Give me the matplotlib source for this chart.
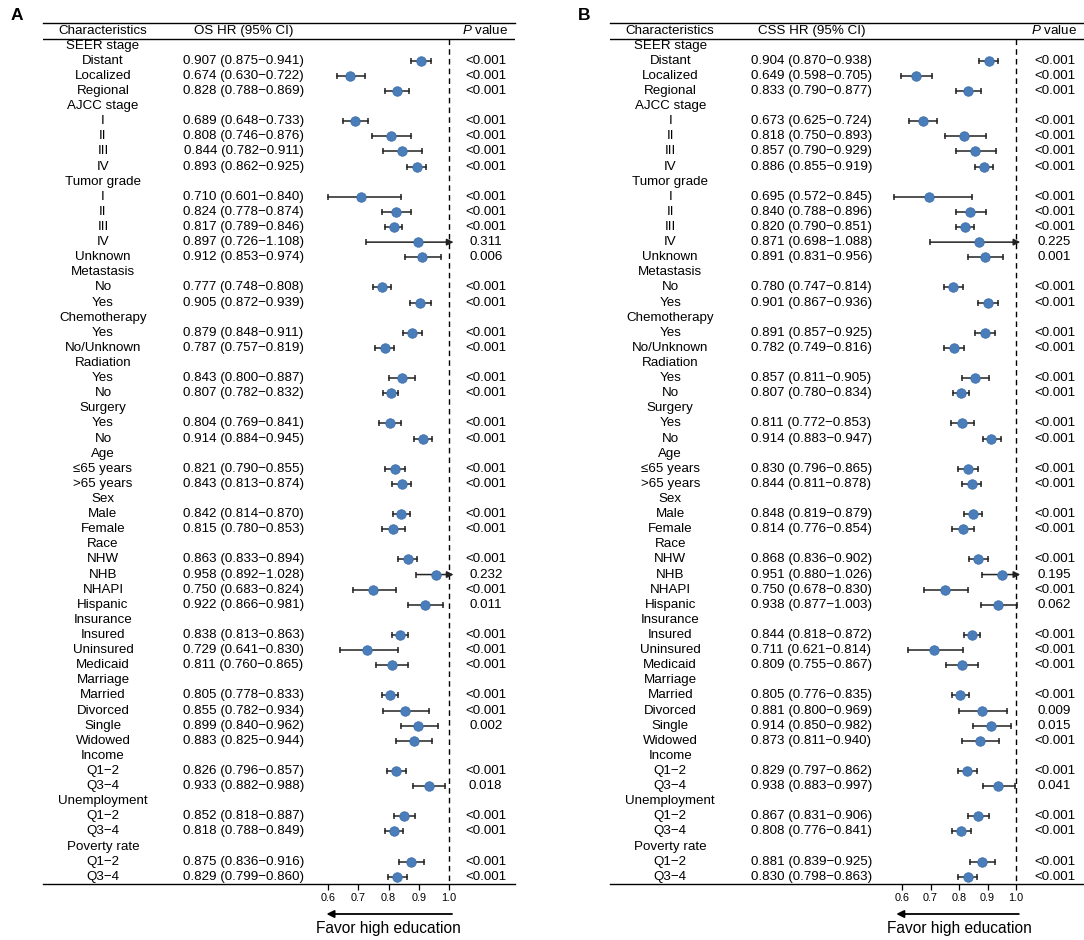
import numpy as np
import matplotlib
matplotlib.use("Agg")
import matplotlib.pyplot as plt

plt.rcParams['font.family'] = ['Liberation Sans', 'DejaVu Sans']
plt.rcParams['mathtext.fontset'] = 'custom'
plt.rcParams['mathtext.it'] = 'Liberation Sans:italic'
plt.rcParams['mathtext.rm'] = 'Liberation Sans'

# row labels; group headers have no HR
labels = ["SEER stage", "Distant", "Localized", "Regional",
          "AJCC stage", "I", "II", "III", "IV",
          "Tumor grade", "I", "II", "III", "IV", "Unknown",
          "Metastasis", "No", "Yes",
          "Chemotherapy", "Yes", "No/Unknown",
          "Radiation", "Yes", "No",
          "Surgery", "Yes", "No",
          "Age", "≤65 years", ">65 years",
          "Sex", "Male", "Female",
          "Race", "NHW", "NHB", "NHAPI", "Hispanic",
          "Insurance", "Insured", "Uninsured", "Medicaid",
          "Marriage", "Married", "Divorced", "Single", "Widowed",
          "Income", "Q1−2", "Q3−4",
          "Unemployment", "Q1−2", "Q3−4",
          "Poverty rate", "Q1−2", "Q3−4"]
is_group = [1, 0, 0, 0, 1, 0, 0, 0, 0, 1, 0, 0, 0, 0, 0, 1, 0, 0, 1, 0, 0,
            1, 0, 0, 1, 0, 0, 1, 0, 0, 1, 0, 0, 1, 0, 0, 0, 0, 1, 0, 0, 0,
            1, 0, 0, 0, 0, 1, 0, 0, 1, 0, 0, 1, 0, 0]

# OS (panel A), only the subgroup rows
os_hr = [0.907, 0.674, 0.828, 0.689, 0.808, 0.844, 0.893,
         0.710, 0.824, 0.817, 0.897, 0.912, 0.777, 0.905,
         0.879, 0.787, 0.843, 0.807, 0.804, 0.914, 0.821, 0.843,
         0.842, 0.815, 0.863, 0.958, 0.750, 0.922,
         0.838, 0.729, 0.811, 0.805, 0.855, 0.899, 0.883,
         0.826, 0.933, 0.852, 0.818, 0.875, 0.829]
os_lo = [0.875, 0.630, 0.788, 0.648, 0.746, 0.782, 0.862,
         0.601, 0.778, 0.789, 0.726, 0.853, 0.748, 0.872,
         0.848, 0.757, 0.800, 0.782, 0.769, 0.884, 0.790, 0.813,
         0.814, 0.780, 0.833, 0.892, 0.683, 0.866,
         0.813, 0.641, 0.760, 0.778, 0.782, 0.840, 0.825,
         0.796, 0.882, 0.818, 0.788, 0.836, 0.799]
os_hi = [0.941, 0.722, 0.869, 0.733, 0.876, 0.911, 0.925,
         0.840, 0.874, 0.846, 1.108, 0.974, 0.808, 0.939,
         0.911, 0.819, 0.887, 0.832, 0.841, 0.945, 0.855, 0.874,
         0.870, 0.853, 0.894, 1.028, 0.824, 0.981,
         0.863, 0.830, 0.865, 0.833, 0.934, 0.962, 0.944,
         0.857, 0.988, 0.887, 0.849, 0.916, 0.860]
os_p = ["<0.001"] * 7 + ["<0.001", "<0.001", "<0.001", "0.311", "0.006"] + \
       ["<0.001"] * 12 + ["<0.001", "0.232", "<0.001", "0.011"] + \
       ["<0.001"] * 5 + ["0.002", ""] + ["<0.001", "0.018"] + ["<0.001"] * 4

# CSS (panel B)
css_hr = [0.904, 0.649, 0.833, 0.673, 0.818, 0.857, 0.886,
          0.695, 0.840, 0.820, 0.871, 0.891, 0.780, 0.901,
          0.891, 0.782, 0.857, 0.807, 0.811, 0.914, 0.830, 0.844,
          0.848, 0.814, 0.868, 0.951, 0.750, 0.938,
          0.844, 0.711, 0.809, 0.805, 0.881, 0.914, 0.873,
          0.829, 0.938, 0.867, 0.808, 0.881, 0.830]
css_lo = [0.870, 0.598, 0.790, 0.625, 0.750, 0.790, 0.855,
          0.572, 0.788, 0.790, 0.698, 0.831, 0.747, 0.867,
          0.857, 0.749, 0.811, 0.780, 0.772, 0.883, 0.796, 0.811,
          0.819, 0.776, 0.836, 0.880, 0.678, 0.877,
          0.818, 0.621, 0.755, 0.776, 0.800, 0.850, 0.811,
          0.797, 0.883, 0.831, 0.776, 0.839, 0.798]
css_hi = [0.938, 0.705, 0.877, 0.724, 0.893, 0.929, 0.919,
          0.845, 0.896, 0.851, 1.088, 0.956, 0.814, 0.936,
          0.925, 0.816, 0.905, 0.834, 0.853, 0.947, 0.865, 0.878,
          0.879, 0.854, 0.902, 1.026, 0.830, 1.003,
          0.872, 0.814, 0.867, 0.835, 0.969, 0.982, 0.940,
          0.862, 0.997, 0.906, 0.841, 0.925, 0.863]
css_p = ["<0.001"] * 7 + ["<0.001", "<0.001", "<0.001", "0.225", "0.001"] + \
        ["<0.001"] * 12 + ["<0.001", "0.195", "<0.001", "0.062"] + \
        ["<0.001"] * 4 + ["0.009", "0.015", "<0.001"] + ["<0.001", "0.041"] + \
        ["<0.001"] * 4

ticks = [0.6, 0.7, 0.8, 0.9, 1.0]

W, H = 1084, 940
blue = "#4a7ebb"
fs = 9.6


def panel(left_px, right_px, one_px, px_per_unit, letter, hr_title, hr, lo, hi, pvals, arrow_tip):
    top_px, bot_px = 22.7, 884.0
    row0, step = 45.7, 15.11
    ax = fig.add_axes([left_px / W, 1 - bot_px / H, (right_px - left_px) / W, (bot_px - top_px) / H])
    x0 = 1 - (one_px - left_px) / px_per_unit
    x1 = 1 + (right_px - one_px) / px_per_unit
    ax.set_xlim(x0, x1)
    ax.set_ylim((bot_px - row0) / step, (top_px - row0) / step)
    for s in ["left", "right"]:
        ax.spines[s].set_visible(False)
    ax.spines["top"].set_linewidth(1.0)
    ax.spines["bottom"].set_linewidth(1.0)
    ax.set_yticks([])
    ax.set_xticks(ticks)
    ax.set_xticklabels([f"{t:.1f}" for t in ticks], fontsize=7.8)
    ax.tick_params(axis="x", length=4, width=0.9, pad=2.5)

    hdr_line = (39 - row0) / step
    ax.axhline(hdr_line, color="k", lw=1.0)
    ax.plot([1, 1], [hdr_line, ax.get_ylim()[0]], color="k", lw=1.0, ls=(0, (4, 3)))

    tr = ax.get_yaxis_transform()
    hdr_y = (31 - row0) / step
    ax.text(0.127, hdr_y, "Characteristics", transform=tr, ha="center", va="center", fontsize=fs)
    ax.text(0.425, hdr_y, hr_title, transform=tr, ha="center", va="center", fontsize=fs)
    ax.text(0.936, hdr_y, r"$\mathit{P}$ value", transform=tr, ha="center", va="center", fontsize=fs)

    k = 0
    for i, lab in enumerate(labels):
        ax.text(0.127, i, lab, transform=tr, ha="center", va="center", fontsize=fs)
        if is_group[i]:
            continue
        ax.text(0.425, i, f"{hr[k]:.3f} ({lo[k]:.3f}−{hi[k]:.3f})", transform=tr,
                ha="center", va="center", fontsize=fs)
        ax.text(0.938, i, pvals[k], transform=tr, ha="center", va="center", fontsize=fs)
        if hi[k] > 1.01:
            # CI runs past the clip: arrow instead of a cap
            ax.annotate("", xy=(1.015, i), xytext=(lo[k], i),
                        arrowprops=dict(arrowstyle="-|>,head_length=0.7,head_width=0.35",
                                        mutation_scale=5.5, lw=1.1,
                                        color="#222222", shrinkA=0, shrinkB=0))
            ax.plot([lo[k]], [i], marker="|", ms=5, mew=1.1, color="#222222")
        else:
            ax.plot([lo[k], hi[k]], [i, i], color="#222222", lw=1.1)
            ax.plot([lo[k], hi[k]], [i, i], ls="none", marker="|", ms=5, mew=1.1, color="#222222")
        ax.plot([hr[k]], [i], marker="o", ms=6.8, mfc=blue, mec="#3d6ea8", mew=0.6, zorder=5)
        k += 1

    ay = (914 - row0) / step
    ax.annotate("", xy=(arrow_tip, ay), xytext=(1.01, ay), annotation_clip=False,
                arrowprops=dict(arrowstyle="-|>", mutation_scale=11, lw=1.3, color="k",
                                shrinkA=0, shrinkB=0))
    ax.text(0.8, (928 - row0) / step, "Favor high education", ha="center", va="center",
            fontsize=11.2, clip_on=False)
    fig.text((left_px - 26) / W, 1 - 15 / H, letter, fontsize=12.5, fontweight="bold",
             ha="center", va="center")


fig = plt.figure(figsize=(W / 100, H / 100), dpi=100)
panel(43, 515, 449, 302.5, "A", "OS HR (95% CI)", os_hr, os_lo, os_hi, os_p, 0.595)
panel(610, 1084, 1016, 285, "B", "CSS HR (95% CI)", css_hr, css_lo, css_hi, css_p, 0.58)
fig.savefig("out.png", dpi=100)
